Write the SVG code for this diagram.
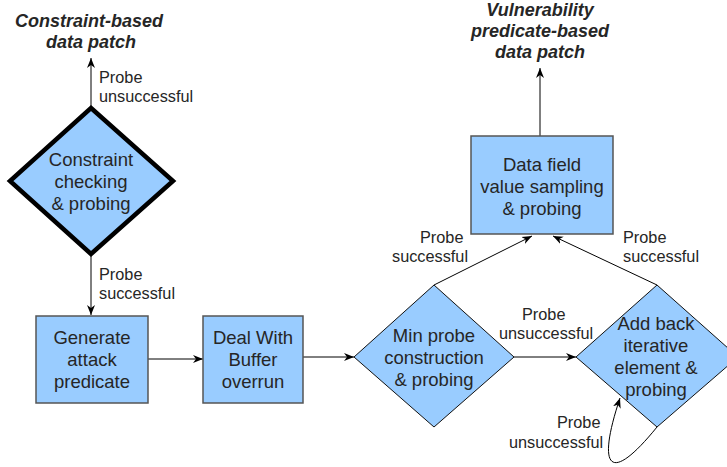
<svg xmlns="http://www.w3.org/2000/svg" width="727" height="467" viewBox="0 0 727 467">
<style>
.n{fill:#99ccff;stroke:#555;stroke-width:1.5}
.d{fill:#99ccff;stroke:#111;stroke-width:1}
.dk{fill:#99ccff;stroke:#000;stroke-width:4.5;stroke-linejoin:miter}
.t{font-family:"Liberation Sans",Arial,sans-serif;font-size:18.5px;fill:#262626;text-anchor:middle}
.l{font-family:"Liberation Sans",Arial,sans-serif;font-size:16.3px;fill:#262626}
.h{font-family:"Liberation Sans",Arial,sans-serif;font-size:18px;font-weight:bold;font-style:italic;fill:#262626;text-anchor:middle}
.c{fill:none;stroke:#000;stroke-width:1;marker-end:url(#ah)}
</style>
<defs>
<marker id="ah" viewBox="0 0 10 10" refX="10" refY="5" markerWidth="10" markerHeight="10" markerUnits="userSpaceOnUse" orient="auto">
<path d="M0,1 L10,5 L0,9 L3,5 z" fill="#000"/>
</marker>
</defs>
<rect width="727" height="467" fill="#fff"/>
<g id="connectors">
<path class="c" d="M91,108 V58"/>
<path class="c" d="M91,254 V315"/>
<path class="c" d="M148,359 H203"/>
<path class="c" d="M303,357 H354"/>
<path class="c" d="M514,357 H576"/>
<path class="c" d="M434,285 L532,236"/>
<path class="c" d="M657,285 L553,236"/>
<path class="c" d="M540,136 V68"/>
<path class="c" d="M657,427 C610,485 596,470 620,398"/>
</g>
<g id="labels">
<text class="l" x="99" y="83">Probe</text>
<text class="l" x="99" y="102">unsuccessful</text>
<text class="l" x="99" y="280">Probe</text>
<text class="l" x="99" y="299">successful</text>
<text class="l" x="522" y="320">Probe</text>
<text class="l" x="499" y="339">unsuccessful</text>
<text class="l" x="420" y="243">Probe</text>
<text class="l" x="392" y="262">successful</text>
<text class="l" x="623" y="243">Probe</text>
<text class="l" x="623" y="262">successful</text>
<text class="l" x="557" y="428">Probe</text>
<text class="l" x="509" y="448">unsuccessful</text>
</g>
<g id="title-constraint">
<text class="h" x="89" y="27">Constraint-based</text>
<text class="h" x="91" y="48">data patch</text>
</g>
<g id="title-vulnerability">
<text class="h" x="540" y="16">Vulnerability</text>
<text class="h" x="540" y="37">predicate-based</text>
<text class="h" x="540" y="58">data patch</text>
</g>
<g id="constraint-checking">
<polygon class="dk" points="91,108 173,181 91,254 10,181"/>
<text class="t" x="91" y="166">Constraint</text>
<text class="t" x="91" y="188">checking</text>
<text class="t" x="91" y="210">&amp; probing</text>
</g>
<g id="generate-attack">
<rect class="n" x="36" y="316" width="112" height="87"/>
<text class="t" x="92" y="344">Generate</text>
<text class="t" x="92" y="366">attack</text>
<text class="t" x="92" y="388">predicate</text>
</g>
<g id="deal-buffer">
<rect class="n" x="203" y="316" width="100" height="87"/>
<text class="t" x="253" y="344">Deal With</text>
<text class="t" x="253" y="366">Buffer</text>
<text class="t" x="253" y="388">overrun</text>
</g>
<g id="min-probe">
<polygon class="d" points="434,285 514,357 434,427 354,357"/>
<text class="t" x="434" y="342">Min probe</text>
<text class="t" x="434" y="364">construction</text>
<text class="t" x="434" y="386">&amp; probing</text>
</g>
<g id="add-back">
<polygon class="d" points="657,285 738,357 657,427 576,357"/>
<text class="t" x="656" y="330">Add back</text>
<text class="t" x="656" y="352">iterative</text>
<text class="t" x="656" y="374">element &amp;</text>
<text class="t" x="656" y="396">probing</text>
</g>
<g id="data-field">
<rect class="n" x="471" y="136" width="142" height="98"/>
<text class="t" x="542" y="171">Data field</text>
<text class="t" x="542" y="193">value sampling</text>
<text class="t" x="542" y="215">&amp; probing</text>
</g>
</svg>
